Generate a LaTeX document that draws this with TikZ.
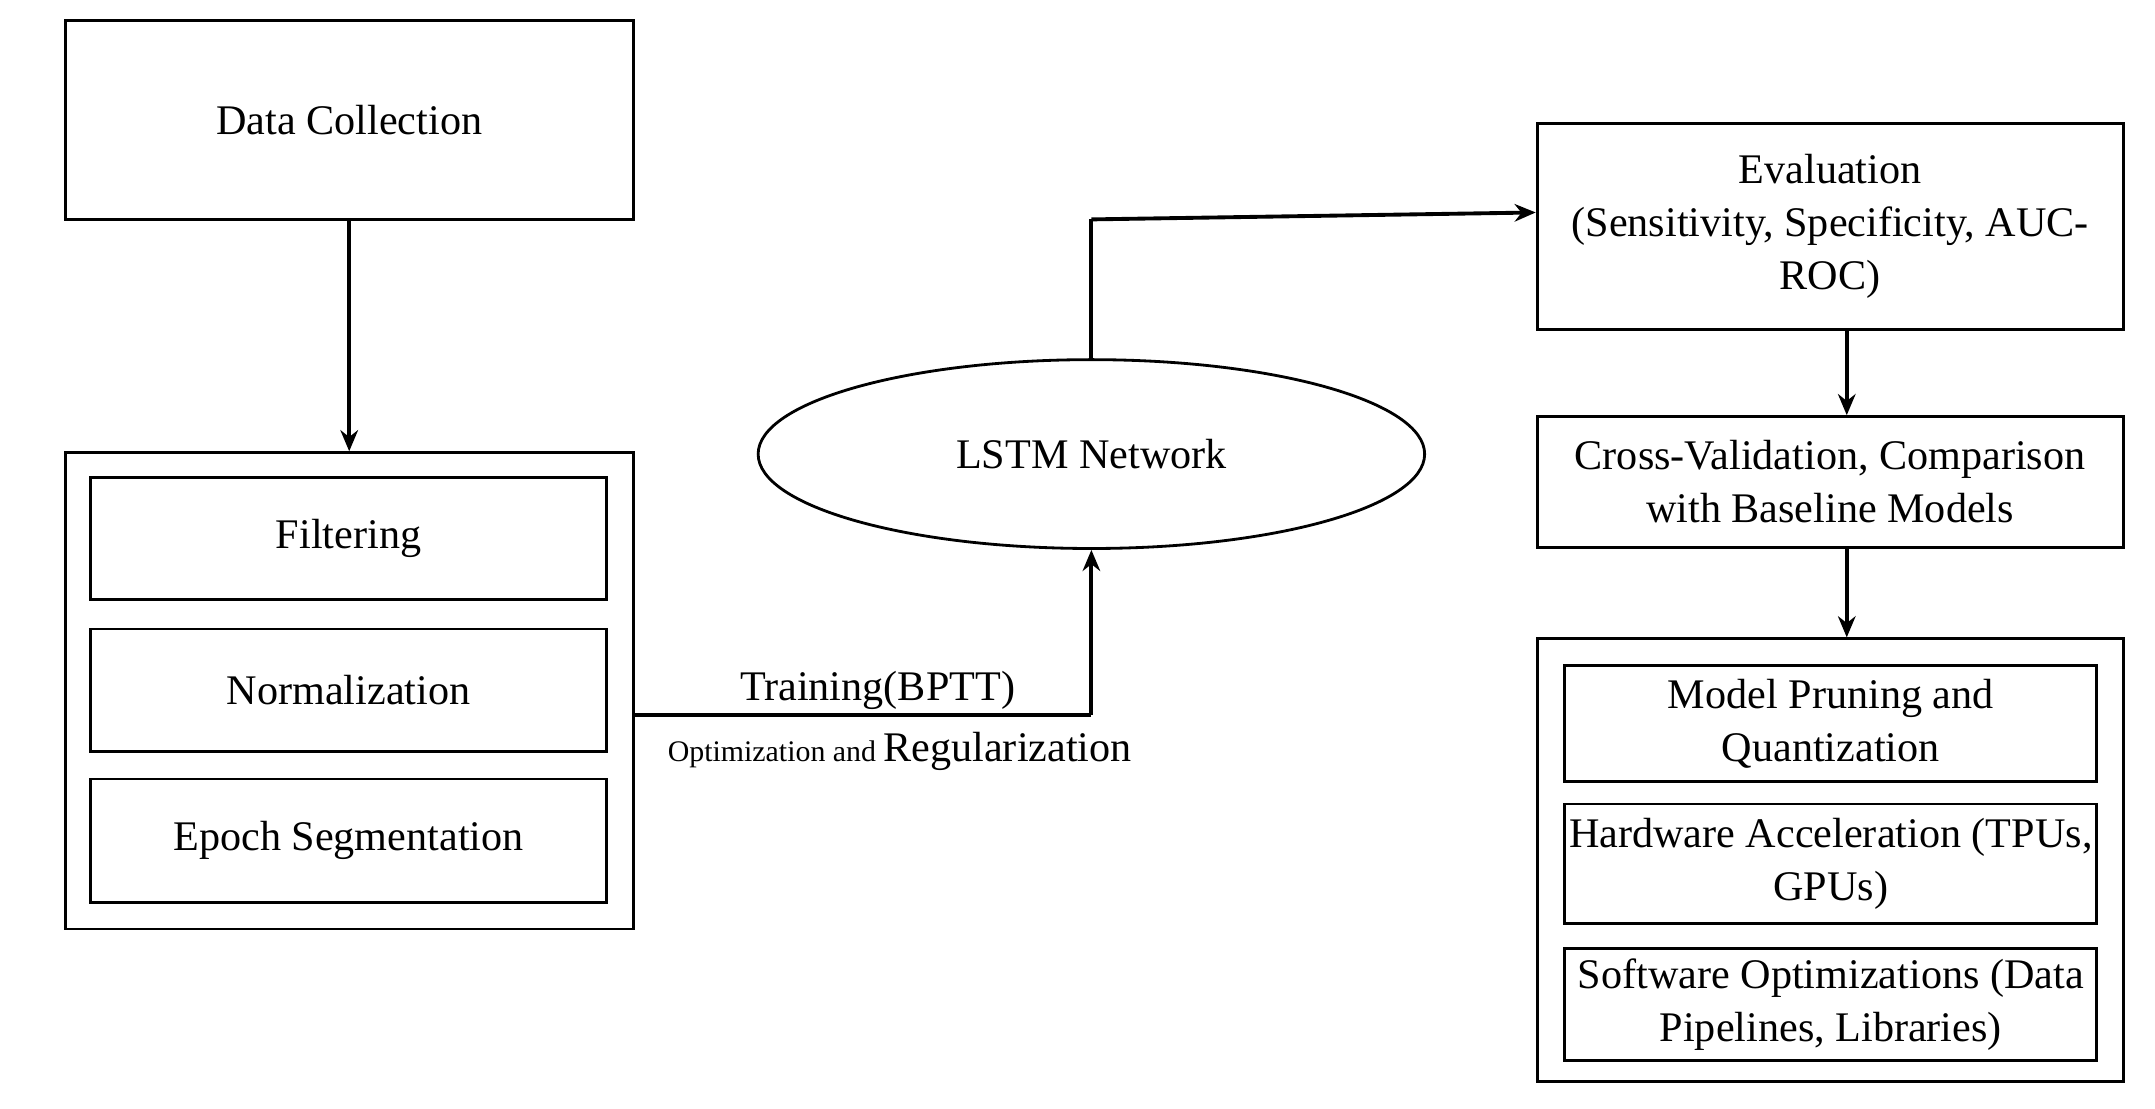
\documentclass[tikz,border=0pt]{standalone}
\usepackage{fontspec}
\setmainfont{Liberation Serif}
\usetikzlibrary{arrows.meta,shapes.geometric}
\newdimen\pxu \pxu=0.01389cm
\begin{document}
\begin{tikzpicture}[x=0.01389cm,y=-0.01389cm,
    box/.style={draw,line width=0.8pt,inner sep=0pt,align=center,font=\fontsize{12}{15}\selectfont},
    arr/.style={line width=1.1pt,-{Stealth[length=6pt,width=5pt]}}]
    \useasboundingbox (0,0) rectangle (1552,798);
    % Left column
    \node[box,minimum width=409\pxu,minimum height=143\pxu] (collect) at (251.5,86.5){Data Collection};
    \node[box,minimum width=409\pxu,minimum height=343\pxu] (prep) at (251.5,497.5){};
    \node[box,minimum width=372\pxu,minimum height=88\pxu] (filter) at (251,388){Filtering};
    \node[box,minimum width=372\pxu,minimum height=88\pxu] (norm) at (251,497){Normalization};
    \node[box,minimum width=372\pxu,minimum height=89\pxu] (epoch) at (251,605.5){Epoch Segmentation};
    % Middle
    \node[box,ellipse,minimum width=480\pxu,minimum height=136\pxu] (lstm) at (786,327){LSTM Network};
    \coordinate (turn1) at (786,515);
    \coordinate (turn2) at (786,158);
    % Right column
    \node[box,minimum width=422\pxu,minimum height=148\pxu] (eval) at (1318,163){Evaluation\\(Sensitivity, Specificity, AUC-\\ROC)};
    \node[box,minimum width=422\pxu,minimum height=94\pxu] (cross) at (1318,347){Cross-Validation, Comparison\\with Baseline Models};
    \node[box,minimum width=422\pxu,minimum height=319\pxu] (deploy) at (1318,619.5){};
    \node[box,minimum width=383\pxu,minimum height=84\pxu] (prune) at (1318.5,521){Model Pruning and\\Quantization};
    \node[box,minimum width=383\pxu,minimum height=86\pxu] (hw) at (1318.5,622){Hardware Acceleration (TPUs,\\GPUs)};
    \node[box,minimum width=383\pxu,minimum height=81\pxu] (sw) at (1318.5,723.5){Software Optimizations (Data\\Pipelines, Libraries)};
    % Edges
    \draw[arr] (collect) -- (prep);
    \draw[line width=1.1pt] (prep.east |- turn1) -- (turn1);
    \draw[arr] (turn1) -- (lstm.south);
    \draw[line width=1.1pt] (lstm.north) -- (turn2);
    \draw[arr] (turn2) -- (eval.west |- 0,153);
    \draw[arr] (eval.south -| 1330,0) -- (cross.north -| 1330,0);
    \draw[arr] (cross.south -| 1330,0) -- (deploy.north -| 1330,0);
    % Labels
    \node[font=\fontsize{12}{14}\selectfont] (train) at (632,497){Training(BPTT)};
    \node (reg) at (648,541){\fontsize{8.5}{10}\selectfont Optimization and \fontsize{12}{14}\selectfont Regularization};
\end{tikzpicture}
\end{document}
